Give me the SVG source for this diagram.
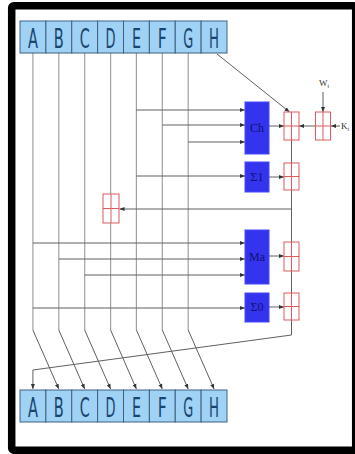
<svg xmlns="http://www.w3.org/2000/svg" width="355" height="454" viewBox="0 0 355 454">
<style>
.reg{fill:#9fd2f4;stroke:#3f6080;stroke-width:1}
.rl{font-family:"DejaVu Sans","Liberation Sans",sans-serif;font-size:27px;fill:#1a4570;text-anchor:middle}
.fn{fill:#3434ee;stroke:#4848f8;stroke-width:1}
.fl{font-family:"Liberation Serif","DejaVu Serif",serif;font-size:12px;fill:#101070;text-anchor:middle}
.add{fill:#fff;stroke:#e05a5a;stroke-width:1}
.v{stroke:#a0a0a0;stroke-width:1.2;fill:none}
.h{stroke:#606060;stroke-width:1;fill:none}
.lab{font-family:"Liberation Serif",serif;font-size:9px;fill:#333}
</style>
<defs>
<marker id="ar" viewBox="0 0 10 10" refX="10" refY="5" markerWidth="5" markerHeight="5" orient="auto" markerUnits="userSpaceOnUse">
<path d="M0,1 L10,5 L0,9 z" fill="#333"/>
</marker>
</defs>
<rect x="0" y="0" width="355" height="454" fill="#fff"/>
<rect x="11.7" y="5.8" width="344" height="444.5" fill="#fff" stroke="#000" stroke-width="7.5" rx="2"/>

<g id="connectors">
<path class="v" d="M32.9,53 V330 M58.8,53 V330 M84.7,53 V330 M110.6,53 V330 M136.4,53 V330 M162.3,53 V330 M188.2,53 V330"/>
<path class="h" marker-end="url(#ar)" d="M136.4,110 H245"/>
<path class="h" marker-end="url(#ar)" d="M162.3,125 H245"/>
<path class="h" marker-end="url(#ar)" d="M188.2,142 H245"/>
<path class="h" marker-end="url(#ar)" d="M136.4,176 H245"/>
<path class="h" marker-end="url(#ar)" d="M32.9,243 H245"/>
<path class="h" marker-end="url(#ar)" d="M58.8,259 H245"/>
<path class="h" marker-end="url(#ar)" d="M84.7,275 H245"/>
<path class="h" marker-end="url(#ar)" d="M32.9,308 H245"/>
<path class="h" marker-end="url(#ar)" d="M269,126 H284"/>
<path class="h" marker-end="url(#ar)" d="M269,177 H284"/>
<path class="h" marker-end="url(#ar)" d="M269,256 H284"/>
<path class="h" marker-end="url(#ar)" d="M269,307 H284"/>
<path class="h" marker-end="url(#ar)" d="M217,54 L289.5,112"/>
<path class="h" marker-end="url(#ar)" d="M323,92 V112"/>
<path class="h" marker-end="url(#ar)" d="M340,126 H331"/>
<path class="h" marker-end="url(#ar)" d="M315,126 H299"/>
<path class="h" d="M291.5,140 V335 L32.9,370"/>
<path class="h" marker-end="url(#ar)" d="M32.9,370 V389"/>
<path class="h" marker-end="url(#ar)" d="M291.5,209 H119.5"/>
<path class="h" marker-end="url(#ar)" d="M32.9,330 L58.8,389"/>
<path class="h" marker-end="url(#ar)" d="M58.8,330 L84.7,389"/>
<path class="h" marker-end="url(#ar)" d="M84.7,330 L110.6,389"/>
<path class="h" marker-end="url(#ar)" d="M110.6,330 L136.4,389"/>
<path class="h" marker-end="url(#ar)" d="M136.4,330 L162.3,389"/>
<path class="h" marker-end="url(#ar)" d="M162.3,330 L188.2,389"/>
<path class="h" marker-end="url(#ar)" d="M188.2,330 L214.1,389"/>
</g>

<g id="reg-top">
<rect class="reg" x="20" y="21" width="25.875" height="32"/>
<rect class="reg" x="45.875" y="21" width="25.875" height="32"/>
<rect class="reg" x="71.75" y="21" width="25.875" height="32"/>
<rect class="reg" x="97.625" y="21" width="25.875" height="32"/>
<rect class="reg" x="123.5" y="21" width="25.875" height="32"/>
<rect class="reg" x="149.375" y="21" width="25.875" height="32"/>
<rect class="reg" x="175.25" y="21" width="25.875" height="32"/>
<rect class="reg" x="201.125" y="21" width="25.875" height="32"/>
<text class="rl" x="32.9" y="48" textLength="10" lengthAdjust="spacingAndGlyphs">A</text>
<text class="rl" x="58.8" y="48" textLength="10" lengthAdjust="spacingAndGlyphs">B</text>
<text class="rl" x="84.7" y="48" textLength="10" lengthAdjust="spacingAndGlyphs">C</text>
<text class="rl" x="110.6" y="48" textLength="10" lengthAdjust="spacingAndGlyphs">D</text>
<text class="rl" x="136.4" y="48" textLength="9" lengthAdjust="spacingAndGlyphs">E</text>
<text class="rl" x="162.3" y="48" textLength="9" lengthAdjust="spacingAndGlyphs">F</text>
<text class="rl" x="188.2" y="48" textLength="10" lengthAdjust="spacingAndGlyphs">G</text>
<text class="rl" x="214.1" y="48" textLength="10" lengthAdjust="spacingAndGlyphs">H</text>
</g>

<g id="reg-bottom">
<rect class="reg" x="20" y="390" width="25.875" height="32"/>
<rect class="reg" x="45.875" y="390" width="25.875" height="32"/>
<rect class="reg" x="71.75" y="390" width="25.875" height="32"/>
<rect class="reg" x="97.625" y="390" width="25.875" height="32"/>
<rect class="reg" x="123.5" y="390" width="25.875" height="32"/>
<rect class="reg" x="149.375" y="390" width="25.875" height="32"/>
<rect class="reg" x="175.25" y="390" width="25.875" height="32"/>
<rect class="reg" x="201.125" y="390" width="25.875" height="32"/>
<text class="rl" x="32.9" y="417" textLength="10" lengthAdjust="spacingAndGlyphs">A</text>
<text class="rl" x="58.8" y="417" textLength="10" lengthAdjust="spacingAndGlyphs">B</text>
<text class="rl" x="84.7" y="417" textLength="10" lengthAdjust="spacingAndGlyphs">C</text>
<text class="rl" x="110.6" y="417" textLength="10" lengthAdjust="spacingAndGlyphs">D</text>
<text class="rl" x="136.4" y="417" textLength="9" lengthAdjust="spacingAndGlyphs">E</text>
<text class="rl" x="162.3" y="417" textLength="9" lengthAdjust="spacingAndGlyphs">F</text>
<text class="rl" x="188.2" y="417" textLength="10" lengthAdjust="spacingAndGlyphs">G</text>
<text class="rl" x="214.1" y="417" textLength="10" lengthAdjust="spacingAndGlyphs">H</text>
</g>

<g id="ch"><rect class="fn" x="245" y="102" width="24" height="52"/><text class="fl" x="257" y="132">Ch</text></g>
<g id="sigma1"><rect class="fn" x="245" y="162" width="24" height="30"/><text class="fl" x="257" y="181">Σ1</text></g>
<g id="ma"><rect class="fn" x="245" y="230" width="24" height="54"/><text class="fl" x="257" y="261">Ma</text></g>
<g id="sigma0"><rect class="fn" x="245" y="293" width="24" height="29"/><text class="fl" x="257" y="311">Σ0</text></g>

<g id="add-main"><rect class="add" x="284" y="112" width="15" height="28"/><path class="add" d="M291.5,112 V140 M284,126 H299"/></g>
<g id="add-wk"><rect class="add" x="315.5" y="112" width="15" height="28"/><path class="add" d="M323,112 V140 M315.5,126 H330.5"/></g>
<g id="add-s1"><rect class="add" x="284" y="163" width="15" height="27"/><path class="add" d="M291.5,163 V190 M284,176.5 H299"/></g>
<g id="add-ma"><rect class="add" x="284" y="242" width="15" height="29"/><path class="add" d="M291.5,242 V271 M284,256.5 H299"/></g>
<g id="add-s0"><rect class="add" x="284" y="293" width="15" height="27"/><path class="add" d="M291.5,293 V320 M284,306.5 H299"/></g>
<g id="add-d"><rect class="add" x="103" y="194" width="16" height="29"/><path class="add" d="M111,194 V223 M103,208.5 H119"/></g>

<g id="labels">
<text class="lab" x="319" y="86">W<tspan font-size="6" dy="2">t</tspan></text>
<text class="lab" x="341" y="129">K<tspan font-size="6" dy="2">t</tspan></text>
</g>
</svg>
